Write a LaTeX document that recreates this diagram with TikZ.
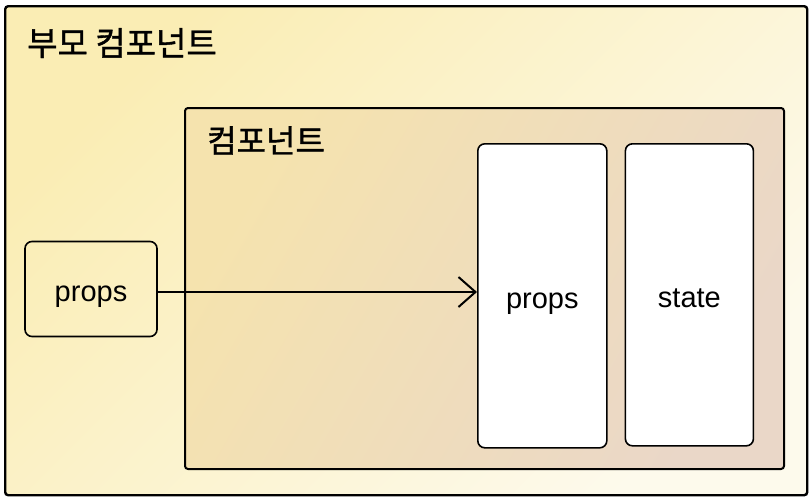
\documentclass[tikz,border=0pt]{standalone}
\usepackage{fontspec}
\setmainfont{Liberation Sans}
\newfontfamily\kofont[FakeBold=1.2]{Noto Sans CJK KR}
\usetikzlibrary{arrows.meta, positioning}

\definecolor{parenttop}{HTML}{FAEDB4}
\definecolor{parentbot}{HTML}{FDFAEC}
\definecolor{comptop}{HTML}{F5E3AE}
\definecolor{compbot}{HTML}{EAD7C8}

\begin{document}
\begin{tikzpicture}[
x=1pt, y=-1pt,
frame/.style={rectangle, draw, rounded corners=3pt, anchor=north west, inner sep=0pt},
parentbox/.style={frame, line width=2.4pt, top color=parenttop, bottom color=parentbot, shading angle=45},
compbox/.style={frame, line width=2pt, top color=comptop, bottom color=compbot, shading angle=60},
cell/.style={rectangle, draw, rounded corners=7pt, fill=white, line width=1.6pt,
text height=25pt, text depth=0pt, font=\fontsize{29}{32}\selectfont},
title/.style={anchor=north west, inner sep=0pt, font=\kofont\fontsize{33}{36}\selectfont},
arr/.style={-{Straight Barb[length=17pt, width=30pt]}, line width=2pt}
]
\useasboundingbox (0,0) rectangle (811,499);

\node[parentbox, minimum width=802pt, minimum height=489pt] (parent) at (4,5) {};
\node[title] (parentlbl) at (27,28) {부모 컴포넌트};

\node[compbox, minimum width=599pt, minimum height=361pt] (comp) at (184,107) {};
\node[title, font=\kofont\fontsize{32}{35}\selectfont] (complbl) at (207,126) {컴포넌트};

\node[cell, fill=none, minimum width=132pt, minimum height=95pt] (outprops) at (91,289) {props};
\node[cell, minimum width=129pt, minimum height=304pt, anchor=north west] (inprops) at (477,143) {props};
\node[cell, minimum width=128pt, minimum height=302pt, right=17pt of inprops.north east, anchor=north west] (state) {state};

\draw[arr] (outprops.east |- 0,292) -- (inprops.west |- 0,292);
\end{tikzpicture}
\end{document}
